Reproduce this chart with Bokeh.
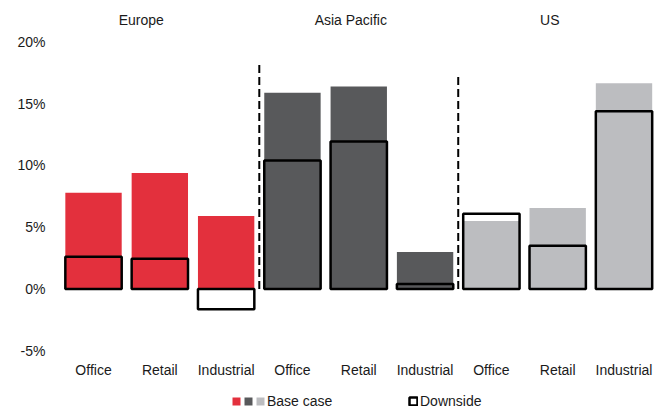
from bokeh.plotting import figure
from bokeh.models import (ColumnDataSource, FixedTicker, PrintfTickFormatter, Range1d,
                          Legend, LegendItem, Label, LinearAxis)
from bokeh.embed import file_html
from bokeh.resources import INLINE

# ---- data ----
regions = ["Europe", "Asia Pacific", "US"]
sectors = ["Office", "Retail", "Industrial"]
base_case = [7.8, 9.4, 5.9, 15.9, 16.4, 3.0, 5.5, 6.55, 16.65]
downside = [2.6, 2.45, -1.65, 10.4, 11.95, 0.4, 6.1, 3.5, 14.4]
region_colors = ["#E3303D", "#58595B", "#BCBDC0"]
y_ticks = [-5, 0, 5, 10, 15, 20]

FONT = "Liberation Sans"
TXT = "#1a1a1a"
FS = "14px"

n = len(regions) * len(sectors)
xs = list(range(n))
cat_labels = [s for r in regions for s in sectors]
colors = [c for c in region_colors for _ in sectors]

src = ColumnDataSource(dict(x=xs, base=base_case, down=downside, color=colors))

p = figure(width=667, height=410, output_backend="svg", toolbar_location=None,
           x_range=Range1d(-0.513, 8.49), y_range=Range1d(-9.84, 23.36),
           x_axis_location=None, y_axis_location="left",
           min_border_left=59, min_border_right=11, min_border_top=0, min_border_bottom=0)
p.outline_line_color = None
p.xgrid.visible = False
p.ygrid.visible = False
p.background_fill_color = "white"
p.border_fill_color = "white"

bw = 0.85
p.vbar(x="x", top="base", bottom=0, width=bw, source=src,
       fill_color="color", line_color=None)
p.vbar(x="x", top="down", bottom=0, width=bw, source=src,
       fill_color=None, line_color="black", line_width=2.5)

# group separators
sep_tops = [18.34, 17.45]
for g in range(1, len(regions)):
    xb = g * len(sectors) - 0.5
    p.segment(x0=[xb], x1=[xb], y0=[0], y1=[sep_tops[g - 1]], line_color="black",
              line_width=2, line_dash="8 4")

# group labels
offsets = [-0.28, -0.12, -0.12]
for i, r in enumerate(regions):
    cx = i * len(sectors) + 1 + offsets[i]
    p.add_layout(Label(x=cx, y=21.78, text=r, text_align="center", text_baseline="middle",
                       text_font=FONT, text_font_size=FS, text_color=TXT))

# y axis
p.yaxis.ticker = FixedTicker(ticks=y_ticks)
p.yaxis.formatter = PrintfTickFormatter(format="%d%%")
p.yaxis.axis_line_color = None
p.yaxis.major_tick_line_color = None
p.yaxis.minor_tick_line_color = None
p.yaxis.major_tick_out = 0
p.yaxis.major_tick_in = 0
p.yaxis.major_label_standoff = 14
p.yaxis.major_label_text_font = FONT
p.yaxis.major_label_text_font_size = FS
p.yaxis.major_label_text_color = TXT

# x axis (category labels) fixed just below -5%
xaxis = LinearAxis(fixed_location=-5.55, ticker=FixedTicker(ticks=xs),
                   major_label_overrides={i: lab for i, lab in enumerate(cat_labels)},
                   axis_line_color=None, major_tick_line_color=None, minor_tick_line_color=None,
                   major_tick_out=0, major_tick_in=0, major_label_standoff=4,
                   major_label_text_font=FONT, major_label_text_font_size=FS,
                   major_label_text_color=TXT)
p.add_layout(xaxis, "below")

# legend (custom)
red_r = p.vbar(x=[0], top=[0], width=0, fill_color=region_colors[0], line_color=None, visible=False)
dk_r = p.vbar(x=[0], top=[0], width=0, fill_color=region_colors[1], line_color=None, visible=False)
lt_r = p.vbar(x=[0], top=[0], width=0, fill_color=region_colors[2], line_color=None, visible=False)
dn_r = p.vbar(x=[0], top=[0], width=0, fill_color="white", line_color="black", line_width=2.5, visible=False)

def mk_legend(items, loc):
    return Legend(items=items, location=loc, orientation="horizontal",
                  glyph_width=10, glyph_height=10, label_standoff=2, spacing=0,
                  padding=0, margin=0, border_line_color=None, background_fill_alpha=0,
                  label_text_font=FONT, label_text_font_size=FS, label_text_color=TXT,
                  label_height=12, label_width=0)

lg1 = mk_legend([LegendItem(label="", renderers=[red_r]),
                 LegendItem(label="", renderers=[dk_r]),
                 LegendItem(label="Base case", renderers=[lt_r])], (172, 1))
lg2 = mk_legend([LegendItem(label="Downside", renderers=[dn_r])], (349, 1))
p.add_layout(lg1, "center")
p.add_layout(lg2, "center")

open("out.html", "w").write(file_html(p, INLINE))
